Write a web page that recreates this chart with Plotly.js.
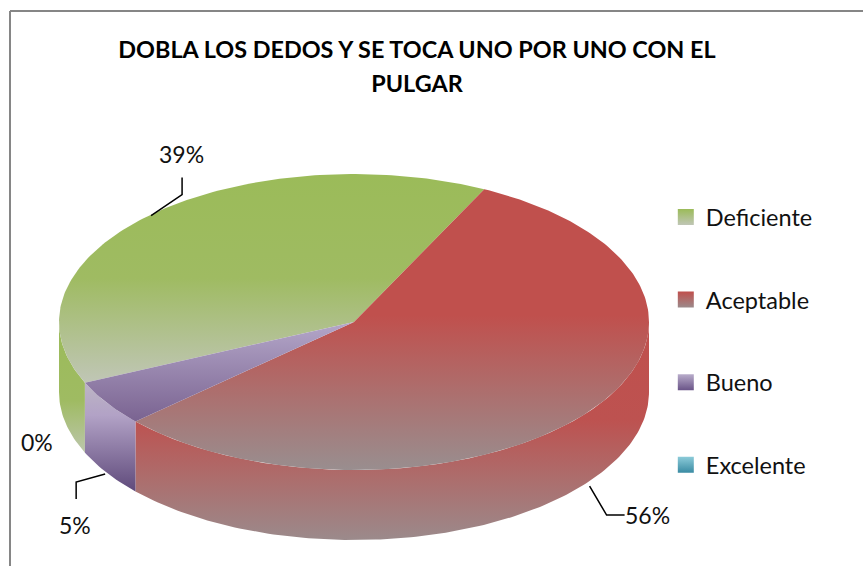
<!DOCTYPE html>
<html>
<head>
<meta charset="utf-8">
<script src="https://cdn.plot.ly/plotly-3.0.1.min.js"></script>
<style>html,body{margin:0;padding:0;background:#fff;overflow:hidden}</style>
</head>
<body>
<div id="chart" style="width:863px;height:566px"></div>
<script>
const categories = ["Deficiente", "Aceptable", "Bueno", "Excelente"];
const shares = [39, 56, 5, 0];

// look of the tilted pie, in plot units
const cx = 354, cy = 322, rx = 295, ry = 148, depth = 70;
const firstAngle = 245.8; // clockwise from 12 o'clock

const topColors = [
    [[0, "#9bbb59"], [0.5, "#9fbb62"], [1, "#c0c6b6"]],
    [[0, "#c0504d"], [0.45, "#c0504d"], [1, "#998e8f"]],
    [[0, "#b4a7c9"], [1, "#7a6391"]],
    [[0, "#8ccbd9"], [1, "#3a8ba3"]]
];
const wallColors = [
    [[0, "#9bbb59"], [0.6, "#9fbb62"], [1, "#bcc6ac"]],
    [[0, "#c0504d"], [0.45, "#bd5250"], [1, "#9b8a8b"]],
    [[0, "#bdb6c4"], [0.3, "#b2a2c6"], [1, "#5f4a7b"]],
    [[0, "#8ccbd9"], [1, "#3a8ba3"]]
];
const legendColors = [
    ["#9bbb59", "#c0c6b6"],
    ["#c0504d", "#9b8a8b"],
    ["#b9adcb", "#6a5488"],
    ["#8ccbd9", "#3a8ba3"]
];

function px(a) { return cx + rx * Math.sin(a * Math.PI / 180); }
function py(a) { return cy - ry * Math.cos(a * Math.PI / 180); }

function arc(a0, a1) {
    const n = Math.max(2, Math.ceil(Math.abs(a1 - a0)));
    const out = [];
    for (let i = 0; i <= n; i++) out.push(a0 + (a1 - a0) * i / n);
    return out;
}

function gradient(colors, ys) {
    return {
        type: "vertical",
        start: Math.min.apply(null, ys),
        stop: Math.max.apply(null, ys),
        colorscale: colors
    };
}

const walls = [], tops = [], legendItems = [];
const mids = [];
let angle = firstAngle;

shares.forEach(function(v, i) {
    const a0 = angle, a1 = angle + v * 3.6;
    angle = a1;
    mids.push((a0 + a1) / 2);
    if (v > 0) {
        // outer wall: only the part between 90 and 270 faces the viewer
        [0, 360].forEach(function(shift) {
            const lo = Math.max(a0 - shift, 90), hi = Math.min(a1 - shift, 270);
            if (hi <= lo) return;
            const up = arc(lo, hi), down = arc(hi, lo);
            const x = up.map(px).concat(down.map(px));
            const y = up.map(py).concat(down.map(function(a) { return py(a) + depth; }));
            walls.push({
                x: x, y: y, mode: "lines", fill: "toself", line: { width: 0 },
                fillgradient: gradient(wallColors[i], y),
                hoverinfo: "skip", showlegend: false
            });
        });
        const rim = arc(a0, a1);
        const x = [cx].concat(rim.map(px), [cx]);
        const y = [cy].concat(rim.map(py), [cy]);
        tops.push({
            x: x, y: y, mode: "lines", fill: "toself", line: { width: 0 },
            fillgradient: gradient(topColors[i], y),
            hoverinfo: "skip", showlegend: false
        });
    }
    legendItems.push({
        x: [null], y: [null], mode: "markers", name: categories[i], legendgroup: categories[i],
        marker: {
            symbol: "square", size: 16, color: legendColors[i][0],
            gradient: { type: "vertical", color: legendColors[i][1] }
        }
    });
});

// leader lines start just off the rim at each slice's middle
const leaderStarts = [[2, 0], [0, 5], [-2, 1]];
const leaderBends = [
    [[31, -21], [31, -38]],
    [[17, 29], [35, 29]],
    [[-29, 8], [-29, 25]]
];
const leaders = leaderBends.map(function(bends, i) {
    const sx = px(mids[i]) + leaderStarts[i][0];
    const sy = py(mids[i]) + (i === 0 ? 0 : depth) + leaderStarts[i][1];
    return {
        x: [sx].concat(bends.map(function(b) { return sx + b[0]; })),
        y: [sy].concat(bends.map(function(b) { return sy + b[1]; })),
        mode: "lines", line: { color: "#000", width: 1.5 },
        hoverinfo: "skip", showlegend: false
    };
});

const labelOffsets = [[32, -62, "center"], [33, 34, "left"], [-32, 52, "center"], [-48, -11, "center"]];
const annotations = shares.map(function(v, i) {
    const o = labelOffsets[i];
    return {
        x: px(mids[i]) + o[0],
        y: py(mids[i]) + (i === 0 ? 0 : depth) + o[1],
        text: v + "%", showarrow: false, xanchor: o[2], yanchor: "middle",
        font: { family: "Lato, 'Open Sans', sans-serif", size: 23, color: "#111" }
    };
});

const frame = { type: "line", line: { color: "#868686", width: 2 } };
const layout = {
    width: 863, height: 566,
    margin: { l: 0, r: 0, t: 0, b: 0 },
    paper_bgcolor: "#fff", plot_bgcolor: "#fff",
    title: {
        // outer size sets the line spacing, inner size the glyphs
        text: "<span style=\"font-size:23.4px\"><b>DOBLA LOS DEDOS Y SE TOCA UNO POR UNO CON EL<br>PULGAR</b></span>",
        x: 417 / 863, xanchor: "center", y: 0.897, yanchor: "top",
        font: { family: "Lato, 'Open Sans', sans-serif", size: 26, color: "#000" }
    },
    xaxis: { range: [0, 863], visible: false, fixedrange: true },
    yaxis: { range: [566, 0], visible: false, fixedrange: true },
    legend: {
        x: 0.7715, y: 0.655, xanchor: "left", yanchor: "top",
        traceorder: "grouped", tracegroupgap: 49,
        font: { family: "Lato, 'Open Sans', sans-serif", size: 23.5, color: "#111" },
        bgcolor: "rgba(0,0,0,0)"
    },
    showlegend: true,
    shapes: [
        Object.assign({ x0: 10, x1: 10, y0: 11, y1: 566 }, frame),
        Object.assign({ x0: 10, x1: 863, y0: 11, y1: 11 }, frame)
    ],
    annotations: annotations
};

Plotly.newPlot("chart", walls.concat(tops, leaders, legendItems), layout, { displayModeBar: false });
</script>
</body>
</html>
